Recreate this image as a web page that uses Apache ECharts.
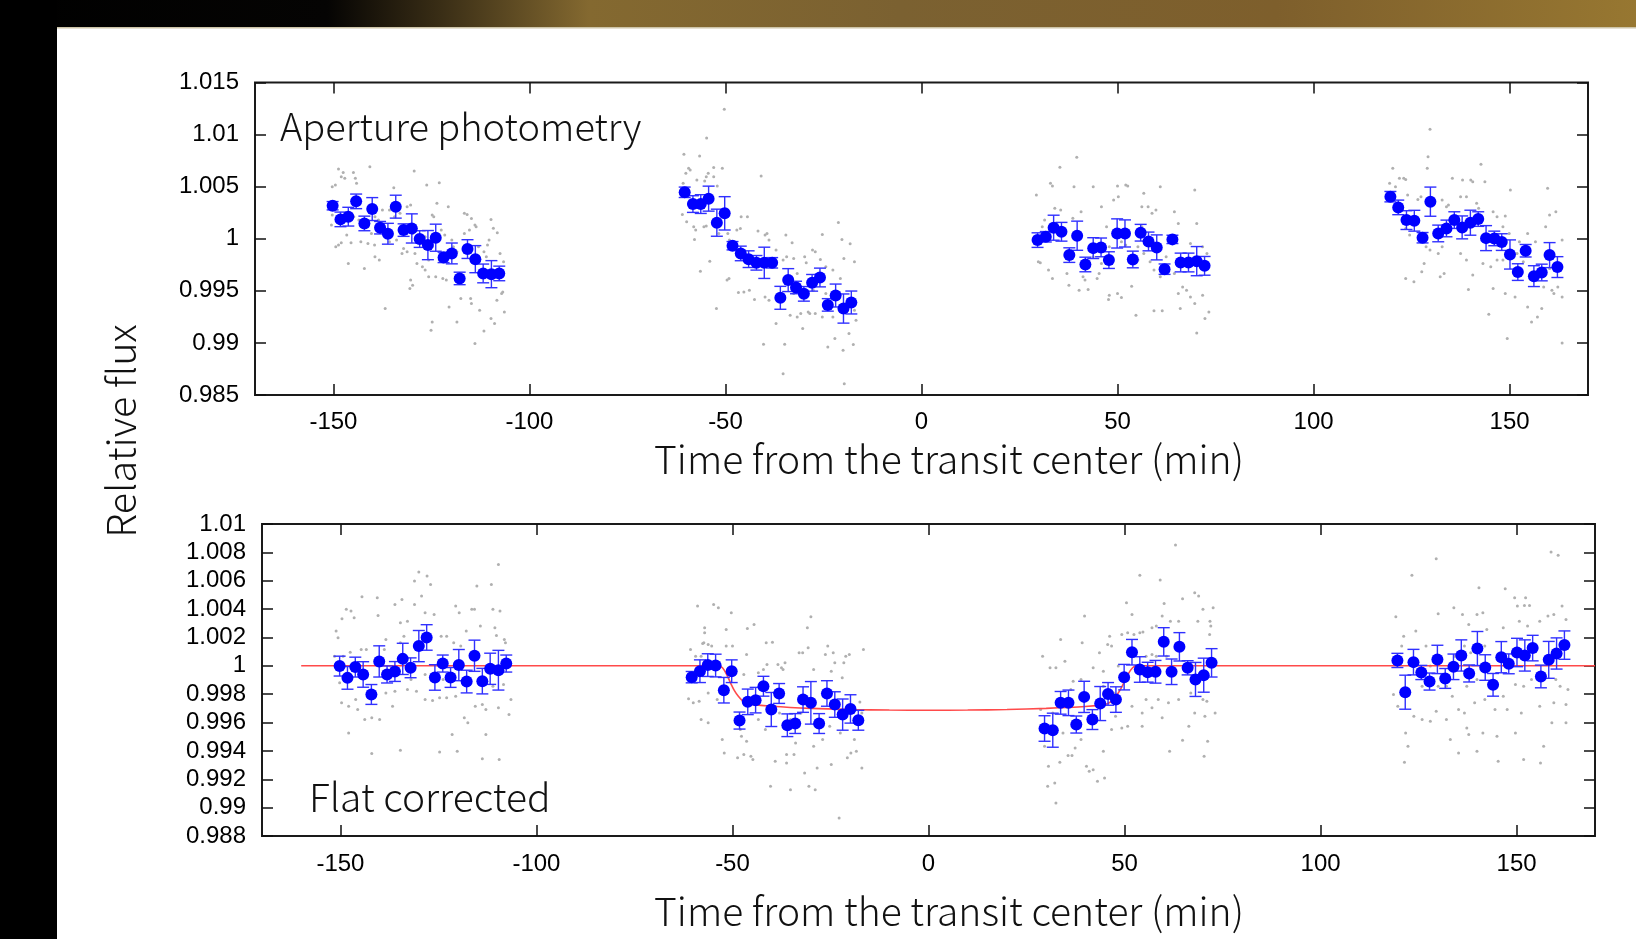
<!DOCTYPE html>
<html><head><meta charset="utf-8">
<script src="https://cdn.jsdelivr.net/npm/echarts@6/dist/echarts.min.js"></script>
<style>html,body{margin:0;padding:0;background:#fff;}#c{width:1636px;height:939px;}</style>
</head><body><div id="c"></div>
<script>
// ---------------- DATA ----------------
const xTicks = [-150, -100, -50, 0, 50, 100, 150];
const topYTicks = [0.985, 0.99, 0.995, 1, 1.005, 1.01, 1.015];
const botYTicks = [0.988, 0.99, 0.992, 0.994, 0.996, 0.998, 1, 1.002, 1.004, 1.006, 1.008, 1.01];

// binned times (min), shared by both panels
const binTime = [
 -150.2,-148.2,-146.2,-144.2,-142.1,-140.1,-138.1,-136.1,-134.1,-132.1,-130.0,-128.0,-125.9,-123.9,-121.9,-119.8,-117.8,-115.8,-113.8,-111.8,-109.7,-107.7,
 -60.4,-58.3,-56.3,-54.3,-52.2,-50.2,-48.2,-46.1,-44.1,-42.1,-40.1,-38.1,-36.0,-34.0,-32.0,-30.0,-27.9,-25.9,-23.9,-21.9,-19.9,-17.9,
 29.6,31.7,33.7,35.7,37.7,39.7,41.8,43.8,45.8,47.8,49.9,51.9,53.9,55.9,57.9,60.0,62.0,64.0,66.1,68.1,70.2,72.2,
 119.6,121.6,123.7,125.7,127.8,129.8,131.8,133.9,135.9,137.9,140.0,142.0,144.0,146.1,148.0,150.1,152.1,154.1,156.2,158.2,160.2,162.2
];
const apertureFlux = [
 1.00317,1.00186,1.00212,1.00359,1.00147,1.00285,1.00106,1.00048,1.00308,1.00083,1.00099,0.99997,0.99939,1.0001,0.99821,0.99859,0.99619,0.99901,0.99804,0.99667,0.9966,0.99667,
 1.00446,1.00333,1.00333,1.00385,1.00154,1.00244,0.99933,0.99859,0.99804,0.99769,0.99769,0.99769,0.99433,0.99603,0.99532,0.99471,0.99577,0.99628,0.99365,0.99455,0.9933,0.99388,
 0.99987,1.00019,1.00106,1.00067,0.99843,1.00029,0.99753,0.9991,0.99917,0.99795,1.00051,1.00051,0.99801,1.00058,0.99974,0.99917,0.99708,0.99994,0.99772,0.99772,0.99785,0.9974,
 1.00404,1.00301,1.00179,1.00173,1.0001,1.00356,1.00051,1.00099,1.00179,1.00109,1.00154,1.00189,1.00006,1.00003,0.99968,0.99849,0.9968,0.99885,0.99641,0.99676,0.99843,0.99728
];
const apertureErr = [
 0.0004,0.0007,0.0009,0.0007,0.0007,0.0011,0.0006,0.001,0.0011,0.0006,0.0014,0.0008,0.0014,0.0013,0.0005,0.001,0.0006,0.0009,0.0013,0.0009,0.0013,0.0007,
 0.0005,0.0008,0.0009,0.0012,0.0013,0.0016,0.0004,0.0007,0.0008,0.0007,0.0015,0.0005,0.0011,0.0011,0.0006,0.0007,0.0008,0.0009,0.0006,0.0011,0.0014,0.0011,
 0.0007,0.0005,0.0012,0.0009,0.0007,0.0014,0.0007,0.001,0.0009,0.0008,0.0014,0.0013,0.0008,0.0008,0.0009,0.0012,0.0005,0.0004,0.0009,0.0009,0.0014,0.0009,
 0.0005,0.0007,0.0009,0.001,0.0005,0.0014,0.0008,0.0008,0.0008,0.0011,0.0012,0.0007,0.0012,0.0007,0.0008,0.0014,0.0008,0.0006,0.001,0.0008,0.0012,0.001
];
const flatFlux = [
 0.99998,0.99915,0.99991,0.99939,0.99798,1.00031,0.99939,0.9996,1.00049,0.99986,1.00139,1.002,0.99918,1.00016,0.99918,1.00005,0.99889,1.00071,0.99892,0.99979,0.99969,1.00016,
 0.9992,0.99962,1.00005,1.00002,0.99828,0.99962,0.99614,0.99746,0.99758,0.99856,0.99692,0.99805,0.99581,0.99593,0.99762,0.99739,0.99593,0.99805,0.99727,0.99656,0.99696,0.99616,
 0.99558,0.99546,0.99739,0.99739,0.99586,0.99781,0.99621,0.99734,0.99802,0.99762,0.9992,1.00096,0.99974,0.99955,0.99958,1.00169,0.99958,1.00134,0.99986,0.99904,0.99934,1.00021,
 1.00038,0.99814,1.00026,0.99953,0.99889,1.00045,0.99911,0.99993,1.00073,0.99946,1.00122,0.99988,0.99866,1.00061,1.00014,1.00094,1.00073,1.00125,0.99925,1.00042,1.00087,1.00146
];
const flatErr = [
 0.0007,0.0008,0.0007,0.0009,0.0007,0.0011,0.0006,0.0007,0.0011,0.0007,0.0011,0.0009,0.0009,0.0006,0.0007,0.0011,0.0008,0.0011,0.0009,0.0011,0.0014,0.0006,
 0.0004,0.0008,0.0008,0.0008,0.0009,0.0008,0.0006,0.0009,0.0009,0.0007,0.0012,0.0007,0.0008,0.0007,0.0009,0.0015,0.0007,0.0009,0.0009,0.0011,0.001,0.0007,
 0.0009,0.0012,0.0008,0.0009,0.0006,0.0011,0.0007,0.0012,0.0008,0.0009,0.0009,0.0009,0.0009,0.0007,0.0008,0.001,0.0009,0.001,0.0005,0.0012,0.0012,0.001,
 0.0005,0.0012,0.0009,0.0005,0.0006,0.001,0.0007,0.0009,0.0011,0.0006,0.0012,0.0009,0.0008,0.0011,0.0007,0.001,0.0011,0.0009,0.0008,0.0013,0.0011,0.001
];

// transit model (red line, bottom panel)
const modelCurve = [
 [-160,1.0],[-53.5,1.0],[-52.5,0.99985],[-51.5,0.9994],[-50.5,0.9988],[-49.5,0.99825],[-48.5,0.99785],[-47.5,0.99755],[-46.5,0.99738],[-45.5,0.9973],
 [-40,0.99715],[-30,0.997],[-20,0.99692],[-10,0.99688],[0,0.99687],[10,0.99688],[20,0.99692],[30,0.997],[40,0.99713],[45,0.99727],
 [46,0.99738],[47,0.99758],[48,0.99792],[49,0.99835],[50,0.9989],[51,0.99945],[52,0.99985],[53,1.0],[170,1.0]
];

// unbinned measurements (grey dots) [time, flux]
const apertureRaw = [
 [-148.7,1.0067],[-147.5,1.00635],[-144.9,1.00635],[-148.0,1.00596],[-147.1,1.0058],[-144.4,1.0058],[-140.7,1.00692],[-129.4,1.0065],[-150.3,1.005],[-149.5,1.00516],
 [-144.1,1.00532],[-134.6,1.0049],[-126.2,1.00516],[-123.0,1.00538],[-123.6,1.0034],[-120.7,1.00308],[-116.6,1.00244],[-115.9,1.00234],[-114.8,1.00195],[-113.6,1.00115],
 [-109.8,1.00186],[-109.2,1.001],[-108.2,1.00058],[-150.3,1.00228],[-148.9,1.00212],[-150.5,1.00131],[-148.7,0.99939],[-148.0,0.99962],[-145.5,0.99962],[-149.4,0.99923],
 [-143.0,0.99971],[-141.2,0.99955],[-139.5,0.99939],[-139.4,0.99827],[-138.3,0.99795],[-146.2,0.99763],[-142.1,0.99715],[-136.8,0.9933],[-132.1,0.99907],[-131.2,0.99875],
 [-132.5,0.99859],[-129.2,0.99859],[-128.7,0.99763],[-127.3,0.99731],[-126.6,0.99699],[-125.7,0.99635],[-130.3,0.99603],[-129.8,0.99554],[-130.5,0.99522],[-123.9,0.99635],
 [-122.1,0.99619],[-121.2,0.99603],[-120.5,0.99346],[-117.5,0.99426],[-115.0,0.99426],[-114.8,0.99378],[-112.7,0.99314],[-118.5,0.99202],[-124.8,0.99202],[-125.1,0.99122],
 [-113.9,0.98994],[-111.6,0.99115],[-109.8,0.99234],[-108.9,0.99186],[-108.3,0.9941],[-107.1,0.99474],[-106.8,0.9949],[-106.4,0.99298],[-110.3,0.99987],[-110.7,0.99939],
 [-111.6,0.99875],[-111.0,0.99827],[-107.5,0.99859],[-106.6,0.99779],[-113.0,0.99923],[-116.6,1.00051],[-115.3,1.00083],[-113.9,1.00131],[-124.8,1.00228],[-124.4,1.00212],
 [-130.3,1.00324],[-131.2,1.00308],[-135.7,1.00276],[-137.5,1.00276],[-139.4,1.00212],[-138.5,1.0018],[-134.4,1.00212],[-133.0,1.00244],[-129.8,1.00051],[-128.5,1.00035],
 [-126.6,1.00019],[-122.5,1.00083],[-121.6,1.00035],[-119.8,0.99987],[-119.4,0.99923],[-118.5,0.99875],[-124.8,0.99923],[-125.7,0.99795],[-123.0,0.99795],[-144.8,1.00212],
 [-143.5,1.0018],[-146.6,1.00035],[-141.2,1.00115],[-140.3,1.00051],[-135.7,0.99971],[-133.9,0.99987],
 [-50.3,1.01244],[-54.8,1.00968],[-60.6,1.00811],[-56.6,1.00795],[-59.4,1.00676],[-59.0,1.0066],[-53.0,1.00683],[-50.8,1.00676],[-60.1,1.00628],[-54.4,1.00628],
 [-54.9,1.00596],[-57.3,1.00564],[-53.0,1.00596],[-55.3,1.00554],[-60.8,1.00532],[-52.1,1.00506],[-40.9,1.00603],[-61.0,1.00234],[-59.9,1.00163],[-58.1,1.00115],
 [-57.6,1.00083],[-55.5,1.00115],[-54.9,1.00122],[-51.7,1.00051],[-49.4,1.00051],[-49.0,0.99987],[-47.1,1.00083],[-46.2,1.00099],[-44.4,1.00212],[-46.0,1.00212],
 [-57.9,0.99994],[-54.0,0.99785],[-56.4,0.99689],[-49.6,0.99603],[-49.1,0.99619],[-52.3,0.9933],[-46.7,0.99484],[-45.3,0.9949],[-43.9,0.99506],[-42.6,0.99417],
 [-41.7,1.00074],[-39.9,1.00035],[-39.4,1.00051],[-38.9,0.99987],[-37.1,0.99891],[-34.6,1.00035],[-33.0,0.99962],[-34.4,0.99827],[-32.6,0.99811],[-35.3,0.99795],
 [-39.9,0.99442],[-38.9,0.9941],[-37.1,0.99186],[-40.3,0.98987],[-34.9,0.98987],[-35.3,0.98705],[-33.5,0.99266],[-31.7,0.9925],[-30.8,0.99282],[-30.3,0.99138],
 [-28.9,0.99298],[-27.6,0.99506],[-27.1,0.99875],[-27.8,0.99891],[-29.8,0.99827],[-29.4,0.99769],[-25.8,0.99801],[-25.3,1.00042],[-27.1,0.99282],[-25.3,0.9925],
 [-23.9,0.98962],[-22.6,0.9925],[-22.1,0.99042],[-21.2,1.00157],[-20.3,0.99994],[-18.2,0.99952],[-19.8,0.99811],[-17.1,0.99779],[-18.5,0.9909],[-17.4,0.98984],
 [-20.0,0.9893],[-19.7,0.98609],[-16.7,0.99218],[-17.1,0.99314],[-20.7,0.99619],[-22.6,0.99699],[-24.4,0.99731],[-24.4,0.99474],[-28.5,0.99282],[-32.6,0.99474],[-31.7,0.99667],
 [39.6,1.00782],[35.3,1.00686],[32.9,1.00532],[33.4,1.00506],[29.3,1.0042],[38.9,1.005],[43.8,1.005],[34.0,1.00292],[35.5,1.00276],[31.4,1.0018],
 [30.8,1.00115],[38.6,1.00196],[40.7,1.0026],[29.8,0.99779],[30.3,0.99769],[32.4,0.99699],[33.4,0.99619],[37.1,0.99667],[37.6,0.99554],[40.2,0.99506],
 [42.5,0.99513],[45.3,0.99667],[44.8,0.99619],[41.2,0.99635],[41.7,0.99603],[47.9,0.99458],[47.7,0.99417],[50.0,0.99474],[51.0,0.99436],[54.7,0.99266],
 [59.3,0.99308],[61.4,0.99308],[53.6,0.99545],[56.7,1.00436],[56.2,1.00308],[57.8,1.00308],[58.8,1.00244],[59.8,1.00276],[60.9,1.005],[64.5,1.0026],
 [65.5,1.00147],[49.0,1.00372],[50.2,1.00404],[50.0,1.00506],[52.6,1.00506],[52.1,1.00516],[45.9,1.00308],[47.2,1.00115],[51.0,0.99971],[52.1,0.99939],
 [55.2,0.99923],[56.7,0.99859],[58.3,0.99779],[59.3,0.99699],[60.9,0.99635],[62.4,0.99667],[64.5,0.99667],[66.6,0.99538],[67.6,0.99506],[65.5,0.99474],
 [66.0,0.9933],[68.6,0.99442],[69.7,0.99378],[70.2,0.99096],[71.7,0.99458],[72.3,0.99234],[73.3,0.99298],[69.7,1.00468],[70.2,1.00147],[68.6,0.99955],
 [71.7,0.99923],[72.8,0.99859],[56.2,1.00115],[55.2,0.99795],[62.4,0.99827],[43.8,0.99827],[45.9,0.99763],[47.9,0.99923],
 [129.7,1.01051],[129.2,1.00788],[120.2,1.00676],[121.9,1.0058],[123.0,1.0058],[123.5,1.0057],[129.0,1.00676],[142.7,1.00715],[119.4,1.00532],[120.9,1.005],
 [124.0,1.0042],[126.6,1.00378],[127.4,1.00404],[135.4,1.0058],[138.0,1.00564],[140.1,1.00564],[140.6,1.00548],[143.7,1.00548],[132.8,1.00372],[133.9,1.00308],
 [134.4,1.00324],[137.5,1.00404],[139.0,1.00404],[141.6,1.0034],[142.1,1.00292],[145.8,1.0026],[146.8,1.00212],[148.9,1.00218],[150.2,1.00468],[148.3,1.00115],
 [149.9,1.00051],[152.5,0.99971],[154.6,1.00051],[156.6,0.99971],[159.7,1.00484],[160.2,1.00228],[161.8,1.0026],[159.2,1.00115],[163.4,0.99987],[123.5,1.00099],
 [124.5,1.00035],[128.7,0.99923],[129.7,0.99891],[131.8,0.99859],[132.8,0.99923],[128.2,0.99763],[127.6,0.99683],[123.5,0.99619],[125.6,0.99587],[132.3,0.99635],
 [133.3,0.99667],[139.5,0.99513],[140.6,0.99651],[145.8,0.99522],[145.2,0.99731],[148.9,0.99474],[151.4,0.99442],[144.7,0.99276],[149.4,0.99042],[154.6,0.99346],
 [155.6,0.99202],[157.1,0.9925],[158.2,0.9933],[158.7,0.99538],[160.8,0.99506],[162.3,0.99538],[163.4,0.99442],[163.4,0.99],[160.2,0.99715],[161.3,0.99474],
 [137.5,0.99859],[139.0,0.99795],[143.2,0.99763],[146.8,0.99795],[148.3,0.99795],[151.9,0.99859],[153.5,0.99779]
];
const flatRaw = [
 [-109.7,1.00715],[-130.0,1.00661],[-127.9,1.00633],[-127.0,1.00574],[-131.1,1.00598],[-115.2,1.00562],[-111.5,1.00574],[-144.5,1.00487],[-140.6,1.0048],[-134.3,1.00468],
 [-136.1,1.00433],[-129.3,1.00492],[-131.1,1.00433],[-148.5,1.00398],[-147.3,1.00386],[-149.6,1.00332],[-146.5,1.00339],[-140.4,1.00355],[-120.6,1.00421],[-119.7,1.00374],
 [-116.5,1.00398],[-115.8,1.00398],[-111.1,1.00398],[-109.3,1.00386],[-128.4,1.00374],[-126.1,1.00362],[-132.9,1.00315],[-134.7,1.00304],[-110.6,1.00268],[-151.1,1.00245],
 [-150.6,1.00198],[-117.9,1.00245],[-114.3,1.0028],[-110.2,1.00214],[-108.2,1.00186],[-107.9,1.00162],[-124.3,1.00209],[-122.9,1.00209],[-133.8,1.00209],[-134.7,1.00162],
 [-138.4,1.00186],[-138.8,1.00115],[-144.7,1.00115],[-143.4,1.00115],[-147.5,1.00096],[-151.5,1.00068],[-149.3,1.00068],[-121.1,1.00162],[-119.3,1.00139],[-150.2,0.9988],
 [-149.7,0.99739],[-147.9,0.99715],[-145.6,0.99692],[-146.1,0.99762],[-143.8,0.99621],[-142.0,0.99633],[-140.0,0.99621],[-136.7,0.99715],[-136.1,0.99821],[-132.9,0.99833],
 [-130.6,0.99821],[-128.4,0.99762],[-126.5,0.99755],[-124.7,0.99774],[-122.9,0.99774],[-120.6,0.99786],[-118.4,0.99633],[-117.5,0.99598],[-115.6,0.99715],[-113.8,0.99727],
 [-112.9,0.99692],[-109.7,0.99704],[-107.0,0.99656],[-106.5,0.99762],[-108.4,0.99868],[-111.1,0.99856],[-147.9,0.99527],[-142.0,0.99381],[-134.7,0.99405],[-124.7,0.99393],
 [-120.2,0.99398],[-121.5,0.99515],[-112.9,0.99515],[-113.8,0.99344],[-109.5,0.99339],[-138.4,0.99809],[-132.0,0.99904],[-128.4,0.99939],[-123.8,0.99904],[-117.9,0.99904],
 [-58.9,1.00421],[-54.8,1.00433],[-53.6,1.00409],[-50.3,1.00374],[-57.1,1.00268],[-57.1,1.00233],[-57.3,1.00162],[-57.6,1.00158],[-56.2,1.00151],[-55.3,1.00139],
 [-51.6,1.00256],[-51.6,1.00139],[-50.0,1.00139],[-46.2,1.00264],[-44.5,1.00292],[-46.4,1.0008],[-60.7,1.00115],[-59.4,1.00068],[-58.0,1.00068],[-47.1,0.99939],
 [-43.4,0.99951],[-42.1,0.99974],[-41.4,1.00162],[-39.8,1.00167],[-41.2,1.00009],[-38.4,1.00009],[-37.5,0.99986],[-36.6,1.00021],[-37.1,0.99974],[-30.0,1.00346],
 [-30.9,1.00268],[-30.7,1.00127],[-33.0,1.00092],[-32.1,1.00092],[-29.3,0.99974],[-26.3,1.0008],[-25.7,1.00139],[-24.3,1.00092],[-23.9,1.00021],[-21.1,1.00068],
 [-20.2,1.0008],[-21.6,1.00021],[-16.6,1.00115],[-24.8,0.99962],[-22.0,0.99915],[-61.2,0.99767],[-60.0,0.99739],[-58.5,0.99751],[-56.2,0.99809],[-53.9,0.99762],
 [-58.0,0.99621],[-56.2,0.99598],[-52.6,0.9948],[-52.1,0.99386],[-48.7,0.99351],[-47.7,0.99504],[-47.1,0.99374],[-46.4,0.99468],[-45.3,0.99362],[-44.8,0.99339],
 [-48.0,0.99551],[-43.4,0.99621],[-41.6,0.99551],[-40.3,0.99151],[-39.1,0.99327],[-36.2,0.99374],[-35.2,0.99127],[-34.3,0.99374],[-33.9,0.99456],[-36.2,0.99315],
 [-31.6,0.99245],[-30.5,0.99151],[-28.9,0.99127],[-29.3,0.99433],[-28.4,0.9928],[-25.2,0.99574],[-24.8,0.99304],[-22.5,0.99527],[-20.7,0.99351],[-19.8,0.99386],
 [-18.9,0.9948],[-18.4,0.99398],[-17.0,0.9928],[-17.5,0.99744],[-17.0,0.99668],[-22.8,0.98927],[-27.0,0.9948],[-32.5,0.99668],[-35.2,0.99621],[-38.0,0.99668],
 [63.0,1.00852],[53.9,1.00638],[59.1,1.00605],[50.5,1.00445],[51.9,1.00362],[59.6,1.00351],[60.1,1.0044],[58.1,1.0028],[57.0,1.00268],[46.2,1.00209],
 [49.3,1.00221],[50.8,1.00233],[52.4,1.00221],[53.9,1.00233],[54.7,1.00238],[55.5,1.00068],[57.0,1.0008],[58.1,1.00068],[60.7,1.00068],[61.7,1.00315],
 [64.8,1.00473],[63.8,1.00315],[67.9,1.00515],[68.9,1.00492],[68.7,1.00315],[70.0,1.00398],[72.6,1.00409],[71.8,1.00315],[72.0,1.0028],[71.7,1.00221],
 [39.8,1.00351],[39.2,1.00162],[33.7,1.00186],[34.8,1.00033],[32.5,0.99986],[31.0,0.99986],[29.1,1.00068],[43.6,1.00092],[45.7,1.00151],[46.7,1.00139],
 [48.4,0.99998],[42.0,0.99986],[44.6,0.99962],[36.9,0.99892],[36.3,0.99833],[38.9,0.99904],[44.6,0.99856],[48.2,0.99762],[47.7,0.99645],[46.7,0.99551],
 [49.3,0.99562],[50.8,0.99574],[54.5,0.99574],[55.5,0.99762],[57.0,0.99704],[58.6,0.99762],[61.2,0.99739],[63.8,0.99762],[66.9,0.99809],[67.9,0.99668],
 [70.0,0.99762],[71.0,0.99751],[70.5,0.99645],[73.1,0.99668],[66.4,0.99574],[64.8,0.99475],[59.6,0.99633],[61.5,0.99398],[70.3,0.99362],[71.2,0.99468],
 [42.0,0.99268],[43.1,0.99186],[44.9,0.99209],[41.0,0.99256],[40.3,0.99292],[36.6,0.99367],[35.6,0.99367],[33.5,0.9932],[32.2,0.99174],[30.4,0.99151],
 [32.5,0.99033],[37.4,0.99421],[38.9,0.9948],[34.3,0.99527],[29.6,0.99433],[30.6,0.99292],[44.6,0.99398],[47.2,0.99809],[51.9,0.99715],[54.5,0.99668],
 [28.6,0.99692],[31.7,0.99668],
 [158.8,1.00802],[160.6,1.00779],[129.5,1.00755],[123.3,1.00638],[147.1,1.00544],[140.4,1.00551],[152.0,1.00426],[153.3,1.00426],[150.2,1.00421],[134.0,1.00409],
 [136.2,1.00362],[130.0,1.00367],[139.9,1.00362],[141.4,1.00374],[152.3,1.0048],[149.5,1.0048],[161.6,1.00421],[162.6,1.00327],[158.0,1.00351],[159.5,1.00362],
 [119.2,1.00346],[124.3,1.00245],[121.2,1.00209],[120.7,1.00139],[137.8,1.00292],[142.4,1.00256],[146.6,1.00268],[150.7,1.00315],[152.8,1.0028],[155.9,1.00315],
 [136.7,1.00139],[138.3,1.00092],[134.2,1.00068],[141.9,1.00139],[126.9,1.00139],[128.0,0.99998],[124.8,0.99951],[125.9,0.99856],[130.0,0.99856],[132.1,0.99856],
 [133.6,0.99786],[137.3,0.99856],[139.9,0.99904],[144.5,0.99856],[146.6,0.99786],[149.7,0.99868],[151.8,0.99856],[153.8,0.99904],[156.9,0.99927],[160.0,0.99904],
 [161.1,0.99856],[163.1,0.99833],[159.5,0.99739],[162.6,0.99727],[155.9,0.99715],[151.2,0.99668],[147.6,0.99692],[144.5,0.99692],[141.9,0.99762],[139.3,0.99739],
 [136.7,0.99668],[135.2,0.99692],[132.1,0.99621],[129.5,0.9968],[128.0,0.99609],[125.9,0.99621],[123.8,0.99645],[118.6,0.99798],[119.7,0.99715],[121.7,0.99527],
 [122.3,0.99433],[121.4,0.9932],[133.1,0.9948],[135.2,0.99386],[137.3,0.99562],[137.8,0.99515],[139.9,0.99398],[141.4,0.99527],[145.0,0.99504],[145.3,0.99327],
 [149.7,0.99527],[151.8,0.99339],[156.1,0.99315],[156.9,0.99433],[159.0,0.99598],[162.6,0.99598]
];

// ---------------- CHART ----------------
const chart = echarts.init(document.getElementById('c'), null, {renderer: 'canvas'});
const tickFont = 'Liberation Sans';
const titleFam = '"Noto Sans CJK JP", "Noto Sans", sans-serif';
const fmt = v => String(parseFloat((+v).toFixed(4)));

function xAx(grid, pos, labels, margin) {
  return {
    type: 'value', gridIndex: grid, position: pos, min: -170, max: 170,
    axisLine: {show: false, onZero: false}, splitLine: {show: false},
    axisTick: {show: true, inside: true, length: 11, customValues: xTicks, lineStyle: {color: '#111', width: 1.5}},
    axisLabel: {show: labels, customValues: xTicks, margin: margin, fontSize: 24, color: '#000', fontFamily: tickFont, formatter: fmt}
  };
}
function yAx(grid, pos, labels, min, max, ticks) {
  return {
    type: 'value', gridIndex: grid, position: pos, min: min, max: max,
    axisLine: {show: false, onZero: false}, splitLine: {show: false},
    axisTick: {show: true, inside: true, length: 11, customValues: ticks, lineStyle: {color: '#111', width: 1.5}},
    axisLabel: {show: labels, customValues: ticks, margin: 16, fontSize: 24, color: '#000', fontFamily: tickFont,
      formatter: fmt, showMinLabel: true, showMaxLabel: true}
  };
}
function errRender(params, api) {
  const x = api.value(0), y = api.value(1), e = api.value(2);
  const p1 = api.coord([x, y + e]);
  const p2 = api.coord([x, y - e]);
  const hw = 6;
  const st = {stroke: '#3030ff', lineWidth: 1.4};
  return {type: 'group', children: [
    {type: 'line', shape: {x1: p1[0], y1: p1[1], x2: p2[0], y2: p2[1]}, style: st},
    {type: 'line', shape: {x1: p1[0] - hw, y1: p1[1], x2: p1[0] + hw, y2: p1[1]}, style: st},
    {type: 'line', shape: {x1: p2[0] - hw, y1: p2[1], x2: p2[0] + hw, y2: p2[1]}, style: st}
  ]};
}
const apBinned = binTime.map((t, i) => [t, apertureFlux[i], apertureErr[i]]);
const flBinned = binTime.map((t, i) => [t, flatFlux[i], flatErr[i]]);

function label(text, x, y, size, align, rot) {
  return {type: 'text', x: x, y: y, rotation: rot || 0, z: 10,
    style: {text: text, fontSize: size, fontFamily: titleFam, fontWeight: 300, fill: '#111',
      textAlign: align, textVerticalAlign: 'middle', align: align, verticalAlign: 'middle'}};
}

const option = {
  animation: false,
  backgroundColor: '#ffffff',
  grid: [
    {left: 255, top: 82.5, width: 1333, height: 312.5, show: true, borderColor: '#1a1a1a', borderWidth: 2, backgroundColor: 'rgba(0,0,0,0)'},
    {left: 262, top: 524, width: 1333, height: 312, show: true, borderColor: '#1a1a1a', borderWidth: 2, backgroundColor: 'rgba(0,0,0,0)'}
  ],
  xAxis: [xAx(0, 'bottom', true, 15), xAx(0, 'top', false, 15), xAx(1, 'bottom', true, 16), xAx(1, 'top', false, 16)],
  yAxis: [
    yAx(0, 'left', true, 0.985, 1.015, topYTicks), yAx(0, 'right', false, 0.985, 1.015, topYTicks),
    yAx(1, 'left', true, 0.988, 1.01, botYTicks), yAx(1, 'right', false, 0.988, 1.01, botYTicks)
  ],
  series: [
    {type: 'scatter', xAxisIndex: 0, yAxisIndex: 0, data: apertureRaw, symbolSize: 3, itemStyle: {color: '#b0b0b0', opacity: 1}, silent: true, z: 1},
    {type: 'custom', xAxisIndex: 0, yAxisIndex: 0, data: apBinned, renderItem: errRender, encode: {x: 0, y: 1}, z: 3, silent: true},
    {type: 'scatter', xAxisIndex: 0, yAxisIndex: 0, data: apBinned, symbolSize: 12, itemStyle: {color: '#0000ff', opacity: 1}, z: 4, silent: true},
    {type: 'scatter', xAxisIndex: 2, yAxisIndex: 2, data: flatRaw, symbolSize: 3, itemStyle: {color: '#b0b0b0', opacity: 1}, silent: true, z: 1},
    {type: 'line', xAxisIndex: 2, yAxisIndex: 2, data: modelCurve, showSymbol: false, smooth: 0.3, lineStyle: {color: '#ff4a4a', width: 1.6}, z: 2, silent: true},
    {type: 'custom', xAxisIndex: 2, yAxisIndex: 2, data: flBinned, renderItem: errRender, encode: {x: 0, y: 1}, z: 3, silent: true},
    {type: 'scatter', xAxisIndex: 2, yAxisIndex: 2, data: flBinned, symbolSize: 12, itemStyle: {color: '#0000ff', opacity: 1}, z: 4, silent: true}
  ],
  graphic: [
    {type: 'rect', z: -10, shape: {x: 0, y: 0, width: 1636, height: 27}, style: {fill: {type: 'linear', x: 0, y: 0, x2: 1, y2: 0, colorStops: [
      {offset: 0, color: '#000000'}, {offset: 0.2, color: '#050403'}, {offset: 0.27, color: '#3a2e16'}, {offset: 0.36, color: '#846930'},
      {offset: 0.55, color: '#7b6131'}, {offset: 0.78, color: '#7e5f2c'}, {offset: 1, color: '#977731'}]}}},
    {type: 'rect', z: -9, shape: {x: 57, y: 27, width: 1579, height: 1.5}, style: {fill: '#cdc4a8'}},
    {type: 'rect', z: -8, shape: {x: 0, y: 0, width: 57, height: 939}, style: {fill: '#000000'}},
    label('Aperture photometry', 280, 127, 38, 'left'),
    label('Flat corrected', 309, 797, 39, 'left'),
    label('Time from the transit center (min)', 949, 459, 39, 'center'),
    label('Time from the transit center (min)', 949, 911, 39, 'center'),
    label('Relative flux', 121, 431, 39.5, 'center', Math.PI / 2)
  ]
};
chart.setOption(option);
</script></body></html>
